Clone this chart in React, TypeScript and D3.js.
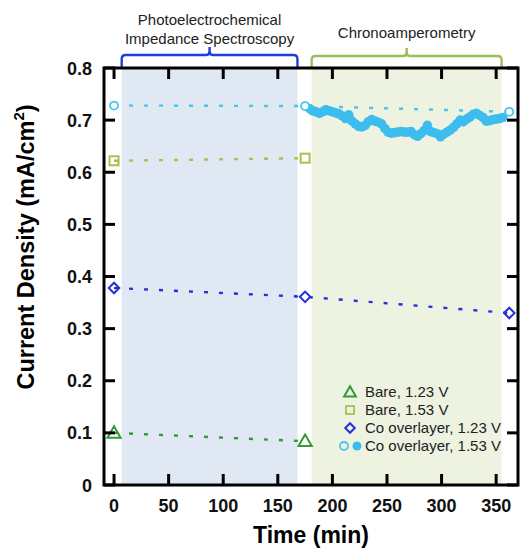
import * as d3 from 'd3';
import React, { useEffect, useRef } from 'react';

// time points (min) for the PEIS measurements
const peisTimes = [0, 175, 362];
const coHigh = [0.728, 0.727, 0.716];   // Co overlayer, 1.53 V
const coLow = [0.378, 0.361, 0.330];    // Co overlayer, 1.23 V
const bareHighTimes = [0, 175];
const bareHigh = [0.622, 0.627];        // Bare, 1.53 V
const bareLowTimes = [0, 175];
const bareLow = [0.100, 0.084];         // Bare, 1.23 V

// chronoamperometry trace (Co overlayer, 1.53 V)
const caTimes = [179, 182, 185, 188, 191, 194, 197, 200, 203, 206, 209, 212, 215, 218, 221, 224, 227, 230,
  233, 236, 239, 242, 245, 248, 251, 254, 257, 260, 263, 266, 269, 272, 275, 278, 281, 284, 287, 290, 293,
  296, 299, 302, 305, 308, 311, 314, 317, 320, 323, 326, 329, 332, 335, 338, 341, 344, 347, 350, 353, 356];
const caValues = [0.722, 0.718, 0.716, 0.713, 0.716, 0.720, 0.718, 0.716, 0.714, 0.712, 0.708, 0.703, 0.710,
  0.698, 0.693, 0.688, 0.687, 0.690, 0.697, 0.701, 0.698, 0.696, 0.693, 0.684, 0.677, 0.675, 0.676, 0.677,
  0.678, 0.677, 0.677, 0.678, 0.672, 0.669, 0.674, 0.680, 0.690, 0.678, 0.676, 0.674, 0.668, 0.673, 0.677,
  0.681, 0.686, 0.693, 0.700, 0.697, 0.702, 0.706, 0.711, 0.713, 0.709, 0.705, 0.698, 0.699, 0.701, 0.702,
  0.703, 0.705];

const xTicks = [0, 50, 100, 150, 200, 250, 300, 350];
const yTicks = [0, 0.1, 0.2, 0.3, 0.4, 0.5, 0.6, 0.7, 0.8];
const peisRange = [7, 168];
const caRange = [181, 355];

const legendItems = ['Bare, 1.23 V', 'Bare, 1.53 V', 'Co overlayer, 1.23 V', 'Co overlayer, 1.53 V'];

const FONT = '"Liberation Sans", Arial, sans-serif';
const CYAN = '#45c6ef';
const CYAN_FILL = '#3cbdee';
const BLUE = '#2332d8';
const GREEN = '#2f9a36';
const OLIVE = '#a6c150';

function App() {
  const ref = useRef(null);

  useEffect(() => {
    const svg = d3.select(ref.current);
    svg.selectAll('*').remove();

    const x = d3.scaleLinear().domain([-9.2, 370]).range([104, 518]);
    const y = d3.scaleLinear().domain([0, 0.8]).range([485, 68]);
    const [x0, x1] = x.range();
    const [y0, y1] = y.range();

    // shaded regions
    svg.append('rect').attr('x', x(peisRange[0])).attr('y', y1)
      .attr('width', x(peisRange[1]) - x(peisRange[0])).attr('height', y0 - y1).attr('fill', '#e0e9f3');
    svg.append('rect').attr('x', x(caRange[0])).attr('y', y1)
      .attr('width', x(caRange[1]) - x(caRange[0])).attr('height', y0 - y1).attr('fill', '#eef2e1');

    // brackets above the plot
    const bracket = (a, b, top, color) => {
      const l = x(a), r = x(b), m = (l + r) / 2;
      const p = `M${l},${y1} L${l},${top + 4} Q${l},${top} ${l + 4},${top} L${m - 3},${top} Q${m},${top} ${m},${top - 4} L${m},${top - 8}`
        + ` M${m},${top - 4} Q${m},${top} ${m + 3},${top} L${r - 4},${top} Q${r},${top} ${r},${top + 4} L${r},${y1}`;
      svg.append('path').attr('d', p).attr('fill', 'none').attr('stroke', color).attr('stroke-width', 2.4);
    };
    bracket(peisRange[0], peisRange[1], 55, '#1f3ee0');
    bracket(caRange[0], caRange[1], 56, '#9dbd58');

    const hdr = svg.append('g').attr('font-family', FONT).attr('font-size', 15).attr('fill', '#222')
      .attr('text-anchor', 'middle');
    const pm = (x(peisRange[0]) + x(peisRange[1])) / 2;
    hdr.append('text').attr('x', pm).attr('y', 25).text('Photoelectrochemical');
    hdr.append('text').attr('x', pm).attr('y', 44).text('Impedance Spectroscopy');
    hdr.append('text').attr('x', (x(caRange[0]) + x(caRange[1])) / 2).attr('y', 38).text('Chronoamperometry');

    // dotted guide lines
    const dotted = (ts, vs, color) => {
      const line = d3.line().x((d, i) => x(ts[i])).y(d => y(d));
      svg.append('path').datum(vs).attr('d', line).attr('fill', 'none').attr('stroke', color)
        .attr('stroke-width', 2.4).attr('stroke-dasharray', '4 11');
    };
    dotted(peisTimes, coHigh, CYAN);
    dotted(bareHighTimes, bareHigh, OLIVE);
    dotted(peisTimes, coLow, BLUE);
    dotted(bareLowTimes, bareLow, GREEN);

    // chronoamperometry dots
    svg.append('g').selectAll('circle').data(caValues).enter().append('circle')
      .attr('cx', (d, i) => x(caTimes[i])).attr('cy', d => y(d)).attr('r', 4.8).attr('fill', CYAN_FILL);

    // markers
    const sym = (type, size) => d3.symbol().type(type).size(size);
    const marker = (g, type, size, color, cx, cy, rot = 0) => g.append('path')
      .attr('d', sym(type, size)())
      .attr('transform', `translate(${cx},${cy}) rotate(${rot})`)
      .attr('fill', 'none').attr('stroke', color).attr('stroke-width', 2);

    const mk = svg.append('g');
    coHigh.forEach((v, i) => mk.append('circle').attr('cx', x(peisTimes[i])).attr('cy', y(v)).attr('r', 4)
      .attr('fill', 'white').attr('stroke', CYAN).attr('stroke-width', 1.8));
    bareHigh.forEach((v, i) => mk.append('rect').attr('x', x(bareHighTimes[i]) - 4.5).attr('y', y(v) - 4.5)
      .attr('width', 9).attr('height', 9).attr('fill', 'none').attr('stroke', OLIVE).attr('stroke-width', 2));
    coLow.forEach((v, i) => marker(mk, d3.symbolSquare, 55, BLUE, x(peisTimes[i]), y(v), 45));
    bareLow.forEach((v, i) => marker(mk, d3.symbolTriangle, 75, GREEN, x(bareLowTimes[i]), y(v) + 1));

    // frame and ticks
    svg.append('rect').attr('x', x0).attr('y', y1).attr('width', x1 - x0).attr('height', y0 - y1)
      .attr('fill', 'none').attr('stroke', '#000').attr('stroke-width', 3);
    const tk = svg.append('g').attr('stroke', '#000').attr('stroke-width', 3);
    xTicks.forEach(t => {
      tk.append('line').attr('x1', x(t)).attr('x2', x(t)).attr('y1', y0).attr('y2', y0 - 11);
      tk.append('line').attr('x1', x(t)).attr('x2', x(t)).attr('y1', y1).attr('y2', y1 + 11);
    });
    yTicks.forEach(t => {
      tk.append('line').attr('x1', x0).attr('x2', x0 + 11).attr('y1', y(t)).attr('y2', y(t));
      tk.append('line').attr('x1', x1).attr('x2', x1 - 11).attr('y1', y(t)).attr('y2', y(t));
    });

    const lbl = svg.append('g').attr('font-family', FONT).attr('font-weight', 'bold').attr('font-size', 18)
      .attr('fill', '#111');
    xTicks.forEach(t => lbl.append('text').attr('x', x(t)).attr('y', 512).attr('text-anchor', 'middle').text(t));
    yTicks.forEach(t => lbl.append('text').attr('x', 92).attr('y', y(t) + 6.5).attr('text-anchor', 'end')
      .text(t === 0 ? '0' : d3.format('.1f')(t)));

    // axis titles
    svg.append('text').attr('x', (x0 + x1) / 2).attr('y', 543).attr('text-anchor', 'middle')
      .attr('font-family', FONT).attr('font-weight', 'bold').attr('font-size', 23).text('Time (min)');
    const yt = svg.append('text').attr('transform', `translate(34,247) rotate(-90)`)
      .attr('text-anchor', 'middle').attr('font-family', FONT).attr('font-weight', 'bold').attr('font-size', 23.5);
    yt.append('tspan').text('Current Density (mA/cm');
    yt.append('tspan').attr('font-size', 15).attr('dy', -10).text('2');
    yt.append('tspan').attr('dy', 10).text(')');

    // legend
    const lg = svg.append('g').attr('font-family', FONT).attr('font-size', 15).attr('fill', '#222');
    const rows = [392, 410, 428, 446];
    marker(lg, d3.symbolTriangle, 60, GREEN, 350, rows[0] + 1);
    lg.append('rect').attr('x', 346).attr('y', rows[1] - 4).attr('width', 8).attr('height', 8)
      .attr('fill', 'none').attr('stroke', OLIVE).attr('stroke-width', 1.8);
    marker(lg, d3.symbolSquare, 45, BLUE, 350, rows[2], 45);
    lg.append('circle').attr('cx', 344).attr('cy', rows[3]).attr('r', 4).attr('fill', 'none')
      .attr('stroke', CYAN).attr('stroke-width', 1.8);
    lg.append('circle').attr('cx', 357).attr('cy', rows[3]).attr('r', 4.5).attr('fill', CYAN_FILL);
    legendItems.forEach((s, i) => lg.append('text').attr('x', 365).attr('y', rows[i] + 5).text(s));
  }, []);

  return (
    <svg ref={ref} width={522} height={548} style={{ position: 'absolute', left: 0, top: 0, background: 'white' }}></svg>
  );
}

export default App;
